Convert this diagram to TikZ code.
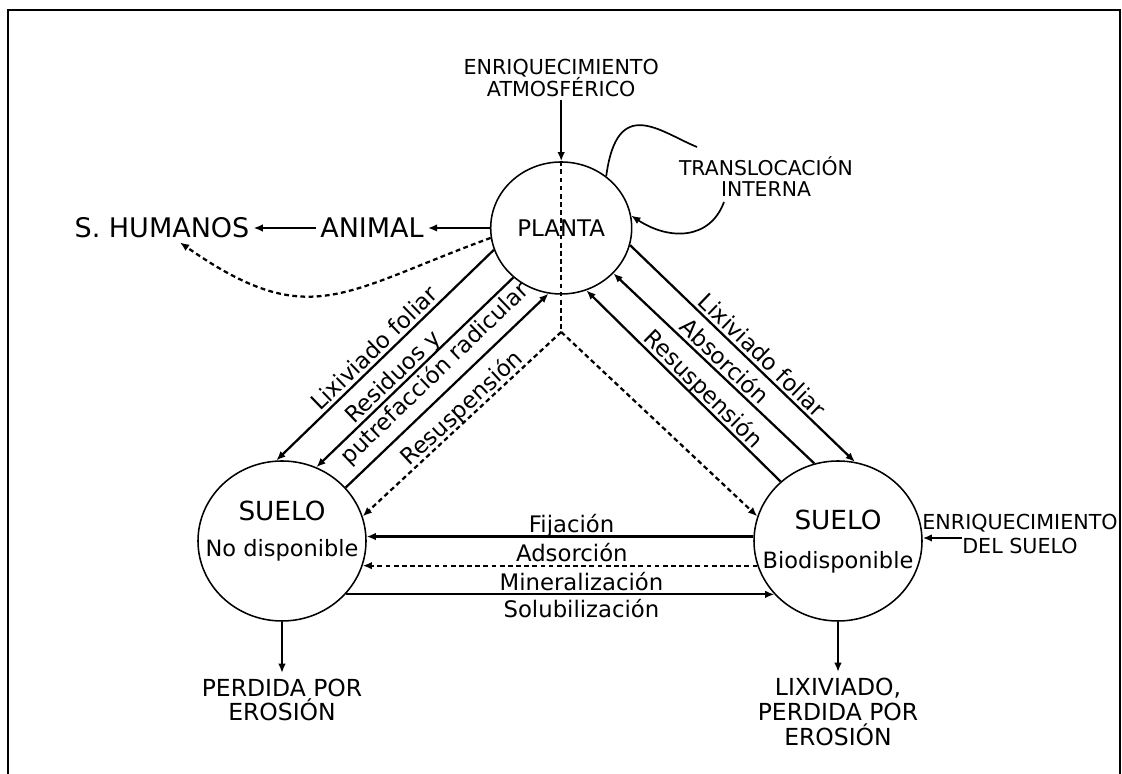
\documentclass[tikz,border=0pt]{standalone}
\usepackage{fontspec}
\setmainfont{DejaVu Sans}
\usepackage{tikz}
\usetikzlibrary{shapes.geometric, arrows.meta, positioning, calc}
\tikzset{
  poolcircle/.style={
    ellipse, draw, line width=1.1pt, inner sep=0pt,
    minimum width=4.2cm, minimum height=4cm
  },
  plantcircle/.style={
    ellipse, draw, line width=1.1pt, inner sep=0pt,
    minimum width=3.525cm, minimum height=3.3cm,
    font=\fontsize{16.3}{19}\selectfont
  },
  poolarrow/.style={
    -{Latex[length=2.3mm, width=1.9mm]}, line width=1.6pt
  },
  pooldash/.style={
    poolarrow, dash pattern=on 3.4pt off 2.4pt
  },
  loopline/.style={line width=1.2pt},
  flowlabel/.style={
    font=\fontsize{16.2}{19}\selectfont, inner sep=2pt
  },
  uplabel/.style={flowlabel, above, text depth=0pt, inner sep=2.3pt},
  downlabel/.style={flowlabel, below, inner sep=2pt},
  pooltitle/.style={font=\fontsize{18.7}{22}\selectfont},
  poolsub/.style={font=\fontsize{16}{19}\selectfont},
  bigtext/.style={font=\fontsize{19.2}{22}\selectfont, inner sep=0.1cm},
  inputtext/.style={
    font=\fontsize{14.7}{15.6}\selectfont, align=center, inner sep=2pt
  },
  losstext/.style={
    font=\fontsize{16.7}{17.5}\selectfont, align=center, inner sep=4pt
  },
}

\begin{document}
\begin{tikzpicture}
  \useasboundingbox (0,0) rectangle (28.05,19.35);

  % Frame (open at the bottom)
  \draw[line width=1.1pt] (0.2,0) -- (0.2,19.1) -- (28.0,19.1) -- (28.0,0);

  % ---- POOLS ----
  \node[plantcircle] (planta) at (14.03, 13.65) {PLANTA};
  \node[poolcircle] (nodisp) at (7.05, 5.825) {};
  \node[poolcircle] (bio) at (20.95, 5.825) {};

  \node[pooltitle] (nodisptitle) at ([yshift=0.75cm]nodisp.center) {SUELO};
  \node[poolsub] (nodispsub) at ([yshift=-0.225cm]nodisp.center)
    {No disponible};
  \node[pooltitle] (biotitle) at ([yshift=0.525cm]bio.center) {SUELO};
  \node[poolsub] (biosub) at ([yshift=-0.525cm]bio.center) {Biodisponible};

  % ---- INPUTS ----
  \node[inputtext] (atmos) at (14.03, 17.4)
    {ENRIQUECIMIENTO\\ATMOSFÉRICO};
  \coordinate (hub) at (14.03, 11.05);
  \draw[poolarrow] (atmos.south) -- (planta.north);
  \draw[line width=1.6pt, dash pattern=on 3.4pt off 2.4pt]
    (planta.north) -- (hub);

  \node[inputtext, font=\fontsize{14.5}{15}\selectfont] (transl)
    at (19.15, 14.925) {TRANSLOCACIÓN\\INTERNA};
  \coordinate (loopa) at (17.425, 15.675);
  \coordinate (loopb) at (18.1, 14.3);
  \draw[loopline] (planta.49) .. controls +(0.275,2.05) and +(-0.925,0.375)
    .. (loopa);
  \draw[poolarrow, line width=1.2pt] (loopb) .. controls +(-0.35,-0.95)
    and +(0.95,-0.625) .. (planta.10);

  \node[inputtext, font=\fontsize{14.7}{17}\selectfont] (enrsuelo)
    at (25.5, 6.0) {ENRIQUECIMIENTO\\DEL SUELO};
  \coordinate (enrin) at (24.05, 5.9);
  \draw[poolarrow] (enrin) -- (enrin -| bio.east);

  % ---- FOOD CHAIN ----
  \node[bigtext] (animal) at (9.3, 13.65) {ANIMAL};
  \node[bigtext] (humanos) at (4.05, 13.65) {S. HUMANOS};
  \draw[poolarrow] (planta.west) -- (animal.east);
  \draw[poolarrow] (animal.west) -- (humanos.east);
  \draw[pooldash] (planta.188) to[out=200, in=-35, looseness=1.3]
    ([xshift=0.45cm]humanos.south);

  % ---- PLANTA <-> SUELO NO DISPONIBLE ----
  \draw[poolarrow] (planta.198) --
    node[uplabel, sloped, pos=0.51] {Lixiviado foliar} (nodisp.94);
  \draw[poolarrow] (planta.226) --
    node[uplabel, sloped, pos=0.57] {Residuos y}
    node[downlabel, sloped, pos=0.45] {putrefacción radicular}
    (nodisp.65);
  \draw[poolarrow] (nodisp.40) -- (planta.259);
  \draw[pooldash] (hub) --
    node[uplabel, sloped, pos=0.46] {Resuspensión} (nodisp.17);

  % ---- PLANTA <-> SUELO BIODISPONIBLE ----
  \draw[poolarrow] (planta.346) --
    node[uplabel, sloped, pos=0.55] {Lixiviado foliar} (bio.78);
  \draw[poolarrow] (bio.107) --
    node[uplabel, sloped, pos=0.49] {Absorción} (planta.319);
  \draw[poolarrow] (bio.134) --
    node[uplabel, sloped, pos=0.44] {Resuspensión} (planta.292);
  \draw[pooldash] (hub) -- (bio.163);

  % ---- SUELO <-> SUELO ----
  \draw[poolarrow] (bio.177) --
    node[uplabel, pos=0.47] {Fijación} (nodisp.3);
  \draw[pooldash] (bio.197) --
    node[uplabel, pos=0.47] {Adsorción} (nodisp.-17);
  \draw[poolarrow] (nodisp.-40) --
    node[uplabel, pos=0.55] {Mineralización}
    node[downlabel, pos=0.55, inner sep=3pt] {Solubilización}
    (bio.220);

  % ---- LOSSES ----
  \node[losstext] (perdida) at (7.05, 1.85) {PERDIDA POR\\EROSIÓN};
  \node[losstext, font=\fontsize{16.7}{18}\selectfont] (lixiv)
    at (20.95, 1.55) {LIXIVIADO,\\PERDIDA POR\\EROSIÓN};
  \draw[poolarrow] (nodisp.south) -- (perdida.north);
  \draw[poolarrow] (bio.south) -- (lixiv.north);
\end{tikzpicture}
\end{document}
